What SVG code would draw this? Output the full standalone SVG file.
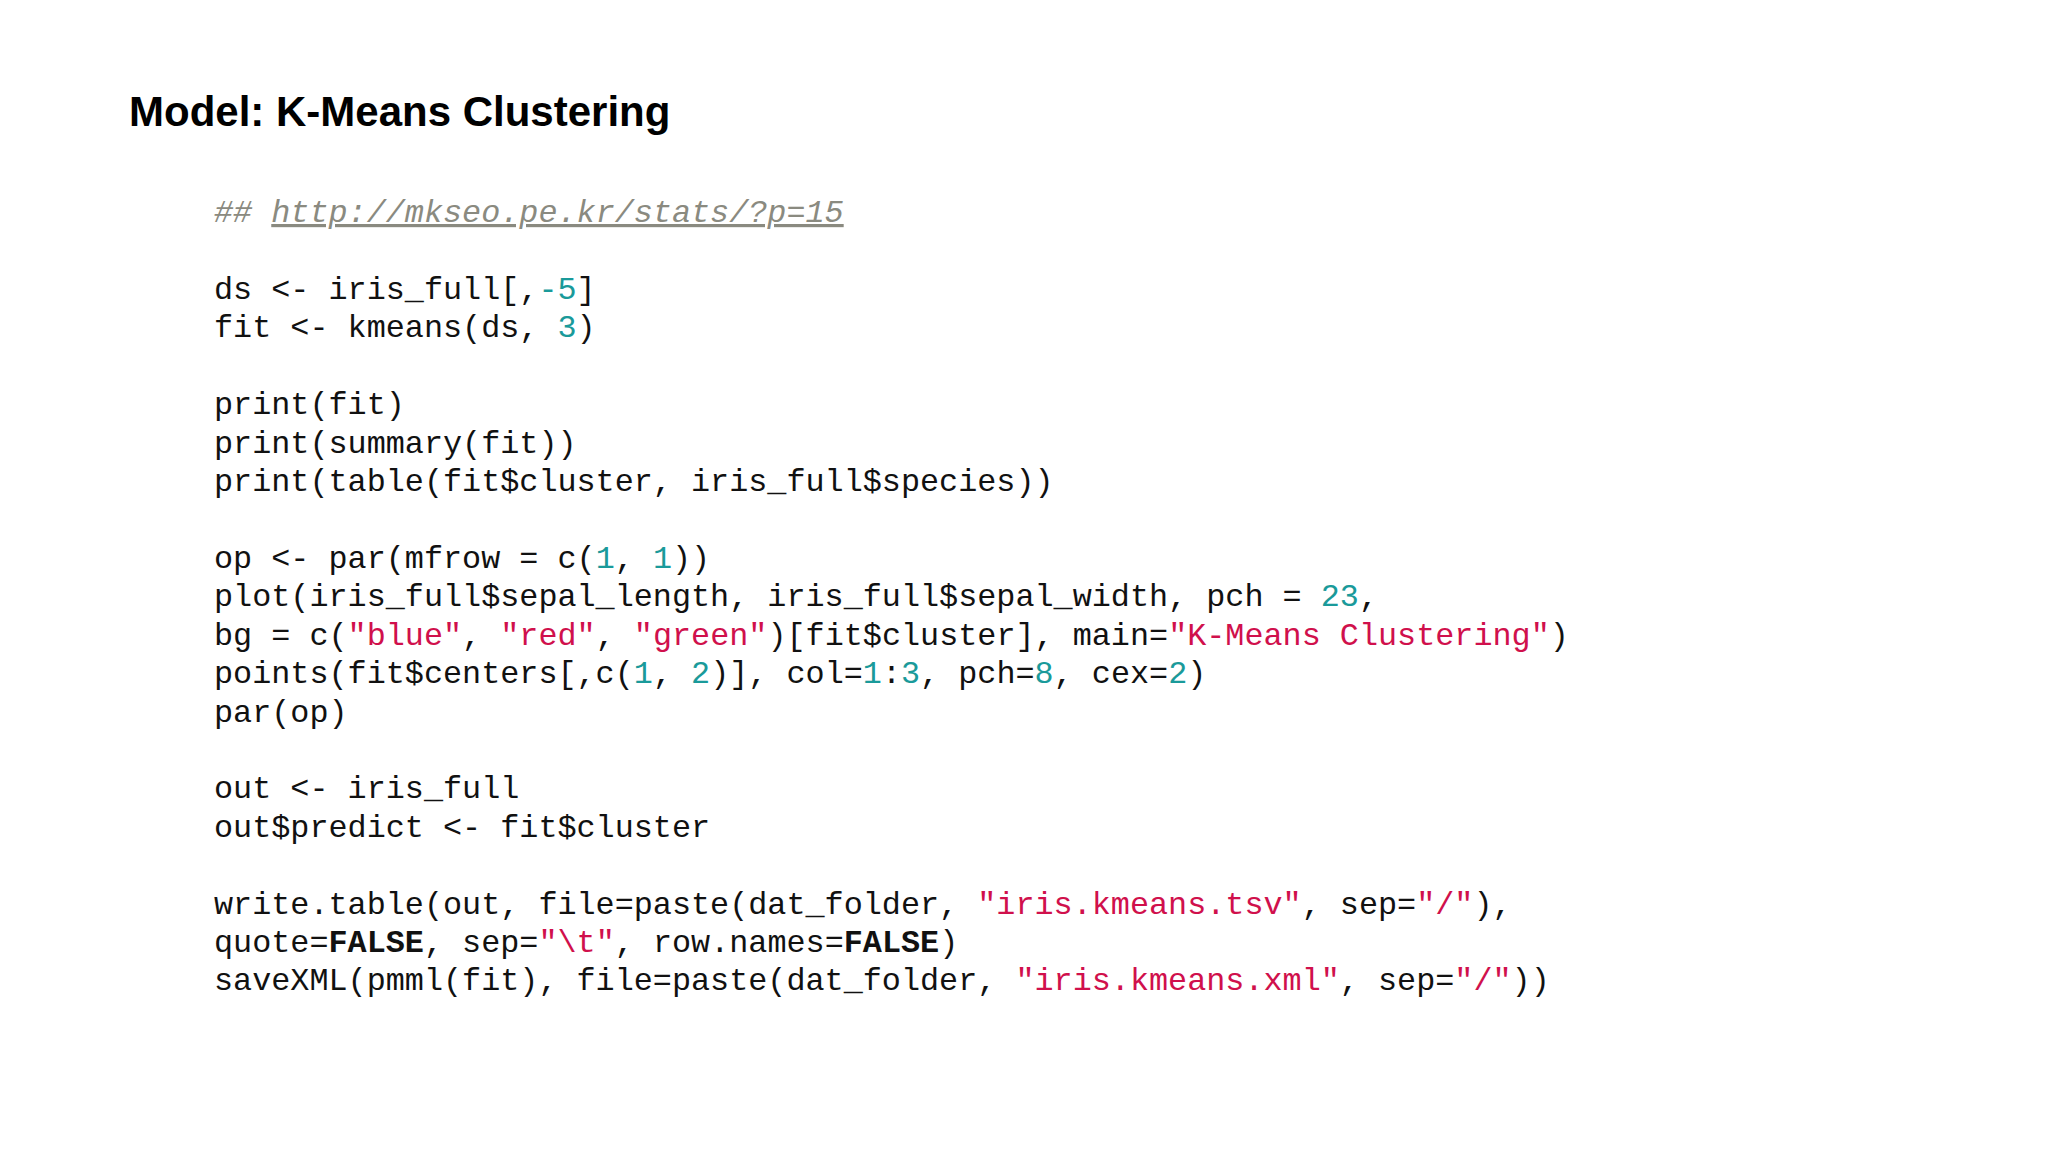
<svg xmlns="http://www.w3.org/2000/svg" width="2048" height="1152" viewBox="0 0 2048 1152">
<style>
.t{font-family:"Liberation Sans",Arial,sans-serif;font-weight:bold;font-size:42px;fill:#000}
.c{font-family:"Liberation Mono","Courier New",monospace;font-size:31.8px;fill:#111}
.n{fill:#1a9a9a}
.s{fill:#d0104c}
.b{font-weight:bold}
.cm{fill:#8a8a80;font-style:italic}
</style>
<rect width="2048" height="1152" fill="#fff"/>
<g id="title"><text class="t" x="129" y="126">Model: K-Means Clustering</text></g>
<g id="code" class="c" xml:space="preserve">
<text x="214" y="222"><tspan class="cm">## </tspan><tspan class="cm" text-decoration="underline">http://mkseo.pe.kr/stats/?p=15</tspan></text>
<text x="214" y="299">ds &lt;- iris_full[,<tspan class="n">-5</tspan>]</text>
<text x="214" y="337">fit &lt;- kmeans(ds, <tspan class="n">3</tspan>)</text>
<text x="214" y="414">print(fit)</text>
<text x="214" y="453">print(summary(fit))</text>
<text x="214" y="491">print(table(fit$cluster, iris_full$species))</text>
<text x="214" y="568">op &lt;- par(mfrow = c(<tspan class="n">1</tspan>, <tspan class="n">1</tspan>))</text>
<text x="214" y="606">plot(iris_full$sepal_length, iris_full$sepal_width, pch = <tspan class="n">23</tspan>,</text>
<text x="214" y="645">  bg = c(<tspan class="s">"blue"</tspan>, <tspan class="s">"red"</tspan>, <tspan class="s">"green"</tspan>)[fit$cluster], main=<tspan class="s">"K-Means Clustering"</tspan>)</text>
<text x="214" y="683">points(fit$centers[,c(<tspan class="n">1</tspan>, <tspan class="n">2</tspan>)], col=<tspan class="n">1</tspan>:<tspan class="n">3</tspan>, pch=<tspan class="n">8</tspan>, cex=<tspan class="n">2</tspan>)</text>
<text x="214" y="722">par(op)</text>
<text x="214" y="798">out &lt;- iris_full</text>
<text x="214" y="837">out$predict &lt;- fit$cluster</text>
<text x="214" y="914">write.table(out, file=paste(dat_folder, <tspan class="s">"iris.kmeans.tsv"</tspan>, sep=<tspan class="s">"/"</tspan>),</text>
<text x="214" y="952">  quote=<tspan class="b">FALSE</tspan>, sep=<tspan class="s">"\t"</tspan>, row.names=<tspan class="b">FALSE</tspan>)</text>
<text x="214" y="990">saveXML(pmml(fit), file=paste(dat_folder, <tspan class="s">"iris.kmeans.xml"</tspan>, sep=<tspan class="s">"/"</tspan>))</text>
</g>
</svg>
